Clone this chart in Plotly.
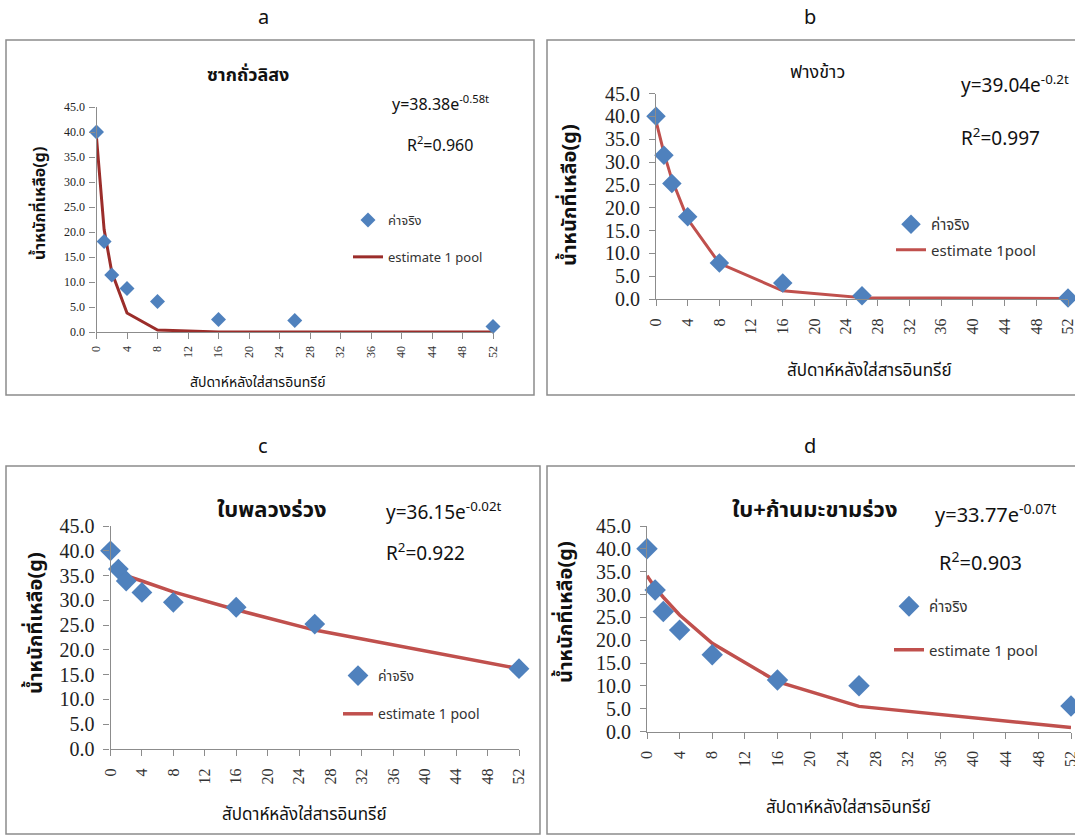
import plotly.graph_objects as go

# ---------------- data ----------------
weeks = [0, 1, 2, 4, 8, 16, 26, 52]
week_ticks = [0, 4, 8, 12, 16, 20, 24, 28, 32, 36, 40, 44, 48, 52]
y_ticks = [0, 5, 10, 15, 20, 25, 30, 35, 40, 45]

panel_letters = ["a", "b", "c", "d"]
panel_titles = ["ซากถั่วลิสง", "ฟางข้าว", "ใบพลวงร่วง", "ใบ+ก้านมะขามร่วง"]
equations = ["y=38.38e<sup>-0.58t</sup>", "y=39.04e<sup>-0.2t</sup>",
             "y=36.15e<sup>-0.02t</sup>", "y=33.77e<sup>-0.07t</sup>"]
r_squared = ["R<sup>2</sup>=0.960", "R<sup>2</sup>=0.997",
             "R<sup>2</sup>=0.922", "R<sup>2</sup>=0.903"]

actual_a = [40.0, 18.1, 11.4, 8.7, 6.1, 2.5, 2.3, 1.1]
estimate_a = [38.9, 20.5, 12.0, 3.8, 0.4, 0.0, 0.0, 0.0]
actual_b = [40.0, 31.5, 25.3, 18.0, 7.9, 3.5, 0.7, 0.2]
estimate_b = [39.0, 32.0, 26.2, 17.5, 7.8, 1.8, 0.3, 0.1]
actual_c = [40.0, 36.3, 33.9, 31.6, 29.6, 28.6, 25.2, 16.2]
estimate_c = [36.3, 35.6, 35.0, 33.9, 31.7, 28.1, 24.0, 16.2]
actual_d = [40.0, 31.0, 26.3, 22.2, 16.8, 11.3, 10.0, 5.6]
estimate_d = [34.1, 31.5, 29.4, 25.5, 19.3, 10.9, 5.5, 0.9]

actual_series = [actual_a, actual_b, actual_c, actual_d]
estimate_series = [estimate_a, estimate_b, estimate_c, estimate_d]
legend_actual = ["ค่าจริง"] * 4
legend_estimate = ["estimate 1 pool", "estimate 1pool", "estimate 1 pool", "estimate 1 pool"]
y_title = "น้ำหนักที่เหลือ(g)"
x_title = "สัปดาห์หลังใส่สารอินทรีย์"

# ---------------- layout specs (pixels) ----------------
W, H = 1075, 836
THAI = "Tahoma, Noto Sans Thai, Noto Sans, sans-serif"
SERIF = "Liberation Serif, Times New Roman, serif"

panels = [
    dict(plot=(96.5, 493, 107, 332), frame=(6, 40, 534, 395), letter=(263, 18),
         title=(248, 75, 18, True), eq=(440, 104, 16), r2=(440, 145, 16),
         ytick=12, xtick=12, mk=11.5, lw=3, line_color="#9B2D2A",
         ytitle=(40, 204, 16), xtitle=(258, 383, 14),
         legend=(348, 205, 13, 17)),
    dict(plot=(656, 1068, 93.5, 299), frame=(547, 40, 1080, 395), letter=(810, 18),
         title=(817, 72, 18, False), eq=(1015, 85, 19), r2=(1000, 138, 19),
         ytick=20, xtick=16, mk=15, lw=3, line_color="#C0504D",
         ytitle=(570, 195, 20), xtitle=(869, 371, 17),
         legend=(891, 208, 15, 3)),
    dict(plot=(110.5, 519, 526, 749), frame=(6, 466, 540, 834), letter=(263, 447),
         title=(272, 510, 22, True), eq=(444, 512, 19), r2=(425, 553, 19),
         ytick=20, xtick=16, mk=16, lw=3.5, line_color="#C0504D",
         ytitle=(36, 623, 20), xtitle=(304, 815, 17),
         legend=(338, 660, 14, 17)),
    dict(plot=(647, 1071, 526, 731.5), frame=(547, 466, 1080, 834), letter=(810, 447),
         title=(815, 510, 22, True), eq=(995, 515, 20), r2=(980, 563, 20),
         ytick=20, xtick=16, mk=16.5, lw=3.5, line_color="#C0504D",
         ytitle=(566, 612, 20), xtitle=(848, 808, 17),
         legend=(889, 590, 15, 21)),
]

fig = go.Figure()
annotations = []
shapes = []

def px_x(x):
    return x / W

def px_y(y):
    return 1 - y / H

def label(text, x, y, size, angle=0):
    return dict(text=text, x=px_x(x), y=px_y(y), xref="paper", yref="paper",
                xanchor="center", yanchor="middle", showarrow=False, textangle=angle,
                font=dict(family=THAI, size=size, color="#111"))

for i, p in enumerate(panels):
    n = i + 1
    xa = "x" if n == 1 else f"x{n}"
    ya = "y" if n == 1 else f"y{n}"
    lg = "legend" if n == 1 else f"legend{n}"

    fig.add_trace(go.Scatter(
        x=weeks, y=estimate_series[i], mode="lines", name=legend_estimate[i],
        line=dict(color=p["line_color"], width=p["lw"]),
        xaxis=xa, yaxis=ya, legend=lg, legendgroup=f"g{n}b", legendrank=2,
        cliponaxis=False))
    fig.add_trace(go.Scatter(
        x=weeks, y=actual_series[i], mode="markers", name=legend_actual[i],
        marker=dict(symbol="diamond", size=p["mk"], color="#4F81BD",
                    line=dict(width=0)),
        xaxis=xa, yaxis=ya, legend=lg, legendgroup=f"g{n}a", legendrank=1,
        cliponaxis=False))

    x0, x1, y0, y1 = p["plot"]
    axkey_x = "xaxis" if n == 1 else f"xaxis{n}"
    axkey_y = "yaxis" if n == 1 else f"yaxis{n}"
    fig.layout[axkey_x] = dict(
        domain=[px_x(x0), px_x(x1)], range=[0, 52], anchor=ya, automargin=False,
        tickvals=week_ticks, ticktext=[str(t) for t in week_ticks],
        tickangle=-90, showgrid=False, zeroline=False,
        showline=True, linecolor="#8C8C8C", linewidth=1.2,
        ticks="outside", ticklen=6, tickcolor="#8C8C8C",
        ticklabelstandoff=(2 if n == 1 else 6), ticklabeloverflow="allow",
        tickfont=dict(family=SERIF, size=p["xtick"], color="#333"))
    fig.layout[axkey_y] = dict(
        domain=[px_y(y1), px_y(y0)], range=[0, 45], anchor=xa, automargin=False,
        tickvals=y_ticks, tickformat=".1f", showgrid=False, zeroline=False,
        showline=True, linecolor="#8C8C8C", linewidth=1.2,
        ticks="outside", ticklen=6, tickcolor="#8C8C8C",
        ticklabelstandoff=(2 if n == 1 else 5), ticklabeloverflow="allow",
        tickfont=dict(family=SERIF, size=p["ytick"], color="#222"))

    lx, ly, lfs, gap = p["legend"]
    fig.layout[lg] = dict(
        x=px_x(lx), y=px_y(ly), xanchor="left", yanchor="top",
        bgcolor="rgba(0,0,0,0)", tracegroupgap=gap,
        font=dict(family=THAI, size=lfs, color="#333"), traceorder="grouped")

    fx0, fy0, fx1, fy1 = p["frame"]
    shapes.append(dict(type="rect", xref="paper", yref="paper",
                       x0=px_x(fx0), x1=px_x(fx1), y0=px_y(fy1), y1=px_y(fy0),
                       line=dict(color="#8C8C8C", width=1.5), layer="below"))

    annotations.append(label(panel_letters[i], *p["letter"], 20))
    tx, ty, tfs, bold = p["title"]
    annotations.append(label(f"<b>{panel_titles[i]}</b>" if bold else panel_titles[i],
                             tx, ty, tfs))
    annotations.append(label(equations[i], *p["eq"]))
    annotations.append(label(r_squared[i], *p["r2"]))
    yx, yy, yfs = p["ytitle"]
    annotations.append(label(f"<b>{y_title}</b>", yx, yy, yfs, angle=-90))
    annotations.append(label(x_title, *p["xtitle"]))

fig.update_layout(
    width=W, height=H, margin=dict(l=0, r=0, t=0, b=0, autoexpand=False),
    paper_bgcolor="white", plot_bgcolor="white",
    annotations=annotations, shapes=shapes, showlegend=True)

fig.write_html("out.html", config={"displayModeBar": False},
               post_script="document.body.style.margin='0';document.body.style.overflow='hidden';")
